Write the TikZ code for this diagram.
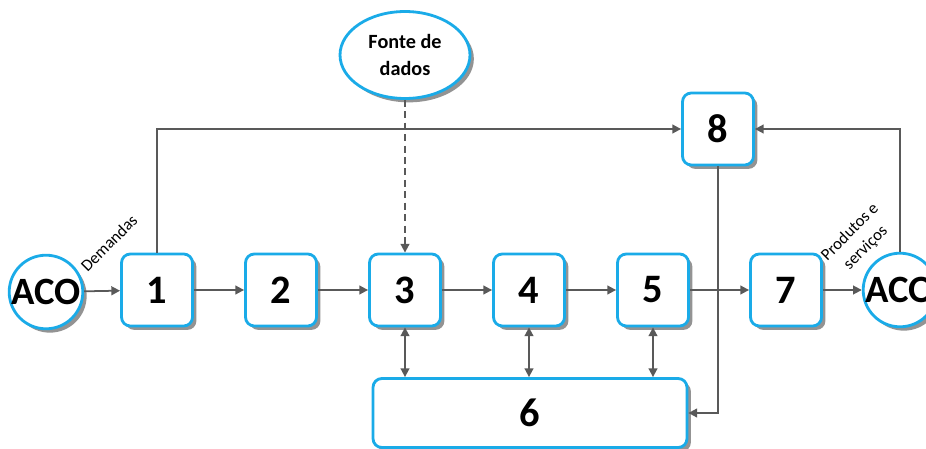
\documentclass[tikz,border=0pt]{standalone}
\usepackage{fontspec}
\setmainfont{Carlito}
\usetikzlibrary{arrows.meta,shadows,shapes.geometric}
\definecolor{boxblue}{HTML}{1AABE8}
\definecolor{linegray}{HTML}{595959}
\tikzset{
	procbox/.style = {draw=boxblue, line width=1.6pt, fill=white, rounded corners=5pt,
		minimum width=1.42cm, minimum height=1.44cm, font=\fontsize{23}{26}\selectfont\bfseries,
		drop shadow={shadow xshift=2.2pt, shadow yshift=-2.2pt, fill=gray!85, opacity=1}},
	acocirc/.style = {circle, draw=boxblue, line width=1.6pt, fill=white,
		minimum size=1.44cm, inner sep=0pt, font=\fontsize{22}{24}\selectfont\bfseries,
		drop shadow={shadow xshift=2.2pt, shadow yshift=-2.2pt, fill=gray!85, opacity=1}},
	fonteell/.style = {ellipse, draw=boxblue, line width=1.6pt, fill=white,
		minimum width=2.6cm, minimum height=1.74cm, inner sep=0pt, align=center,
		font=\fontsize{11.5}{15}\selectfont\bfseries,
		drop shadow={shadow xshift=2.2pt, shadow yshift=-2.2pt, fill=gray!85, opacity=1}},
	conn/.style = {draw=linegray, line width=1pt, -{Triangle[length=5pt,width=5pt]}},
	biconn/.style = {draw=linegray, line width=1pt, {Triangle[length=5pt,width=5pt]}-{Triangle[length=5pt,width=5pt]}},
	lbl/.style = {rotate=45, font=\fontsize{9.5}{12.5}\selectfont, align=center, inner sep=1pt}
}
\begin{document}
\begin{tikzpicture}[x = 0.02cm, y = -0.02cm]
	\useasboundingbox (0,0) rectangle (926,449);
	
	% main row
	\foreach \n/\x in {1/157, 2/281, 3/405, 4/529, 5/653, 7/786}{
		\node[procbox] (b\n) at (\x,290) {\n};
	}
	\node[procbox] (b8) at (718,129) {8};
	\node[procbox, minimum width=6.28cm, minimum height=1.38cm] (b6) at (530,413) {6};
	
	\node[acocirc] (acoL) at (46,292) {ACO};
	\node[acocirc] (acoR) at (900,290) {ACO};
	\node[fonteell] (fonte) at (405,55) {Fonte de\\dados};
	
	% flow
	\draw[conn] (acoL) -- (b1);
	\draw[conn] (b1) -- (b2);
	\draw[conn] (b2) -- (b3);
	\draw[conn] (b3) -- (b4);
	\draw[conn] (b4) -- (b5);
	\draw[conn] (b5) -- (b7);
	\draw[conn] (b7) -- (acoR);
	
	% feedback
	\draw[conn] (b1.north) |- (b8.west);
	\draw[conn] (acoR.north) |- (b8.east);
	\draw[conn] (b8.south) |- (b6.east);
	\draw[conn, dash pattern=on 4pt off 2.5pt] (fonte) -- (b3);
	
	\foreach \n in {3, 4, 5}{
		\draw[biconn] (b\n) -- (b6.north -| b\n);
	}
	
	% labels
	\node[lbl] (dem) at (109,243) {Demandas};
	\node[lbl] (prod) at (858,240) {Produtos e\\serviços};
	
\end{tikzpicture}
\end{document}
